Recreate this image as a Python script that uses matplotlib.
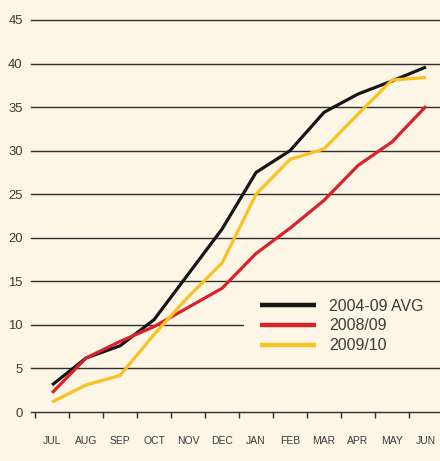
import numpy as np
import matplotlib
matplotlib.use('Agg')
import matplotlib.pyplot as plt
from matplotlib.patches import Rectangle

### DATA
months = ['JUL', 'AUG', 'SEP', 'OCT', 'NOV', 'DEC',
          'JAN', 'FEB', 'MAR', 'APR', 'MAY', 'JUN']
avg_0409 = [3.1, 6.2, 7.6, 10.6, 15.8, 21.0, 27.5, 30.0, 34.4, 36.5, 38.0, 39.6]
s_0809 = [2.2, 6.2, 8.1, 9.8, 12.0, 14.2, 18.2, 21.1, 24.3, 28.3, 31.0, 35.1]
s_0910 = [1.15, 3.1, 4.2, 8.9, 13.2, 17.1, 25.0, 29.0, 30.2, 34.2, 38.1, 38.4]
series_names = ['2004-09 AVG', '2008/09', '2009/10']
yticks = [0, 5, 10, 15, 20, 25, 30, 35, 40, 45]

### STYLE
bg = '#fdf6e6'
txt = '#3a3a3a'
colors = ['#161616', '#d8232a', '#f8c221']

plt.rcParams['font.family'] = ['Liberation Sans', 'DejaVu Sans']

fig = plt.figure(figsize=(4.40, 4.61), dpi=100, facecolor=bg)
W, H = 440.0, 461.0
left, right, bottom, top = 31, 440, 412, 15.6
ax = fig.add_axes([left / W, 1 - bottom / H, (right - left) / W, (bottom - top) / H])
ax.set_facecolor(bg)

x = np.arange(len(months))
for vals, name, c in zip([avg_0409, s_0809, s_0910], series_names, colors):
    ax.plot(x, vals, color=c, lw=2.3, label=name, zorder=3,
            solid_joinstyle='miter', solid_capstyle='butt')

ax.set_xlim(-0.62, 11.41)
ax.set_ylim(0, 45.5)

# y grid lines
ax.set_yticks(yticks)
ax.set_yticklabels([str(v) for v in yticks], fontsize=9.4, color=txt)
ax.tick_params(axis='y', length=0, pad=6)
for v in yticks:
    ax.axhline(v, color='#2e2e2e', lw=1.0, zorder=1, clip_on=False)

# x ticks: marks at month boundaries, labels at centers
ax.set_xticks(x - 0.5)
ax.set_xticklabels([])
ax.tick_params(axis='x', which='major', direction='out', length=4.5,
               width=1.0, color='#2e2e2e')
ax.set_xticks(x, minor=True)
ax.set_xticklabels(months, minor=True, fontsize=7.5, color=txt)
ax.tick_params(axis='x', which='minor', length=0, pad=17.5)

for s in ax.spines.values():
    s.set_visible(False)

# cream box behind the legend, hides part of the grid
ax.add_patch(Rectangle(((244 - left) / (right - left), (bottom - 362) / (bottom - top)),
                       1.0, 72 / (bottom - top), transform=ax.transAxes,
                       facecolor=bg, edgecolor='none', zorder=2, clip_on=False))

leg = ax.legend(loc='center left', bbox_to_anchor=(246 / W, 1 - 326 / H),
                bbox_transform=fig.transFigure, frameon=False,
                fontsize=11.4, handlelength=3.5, handletextpad=0.85,
                labelspacing=0.3, borderpad=0.4)
for line in leg.get_lines():
    line.set_linewidth(3.2)
for t in leg.get_texts():
    t.set_color(txt)

fig.savefig('out.png', dpi=100, facecolor=bg)
